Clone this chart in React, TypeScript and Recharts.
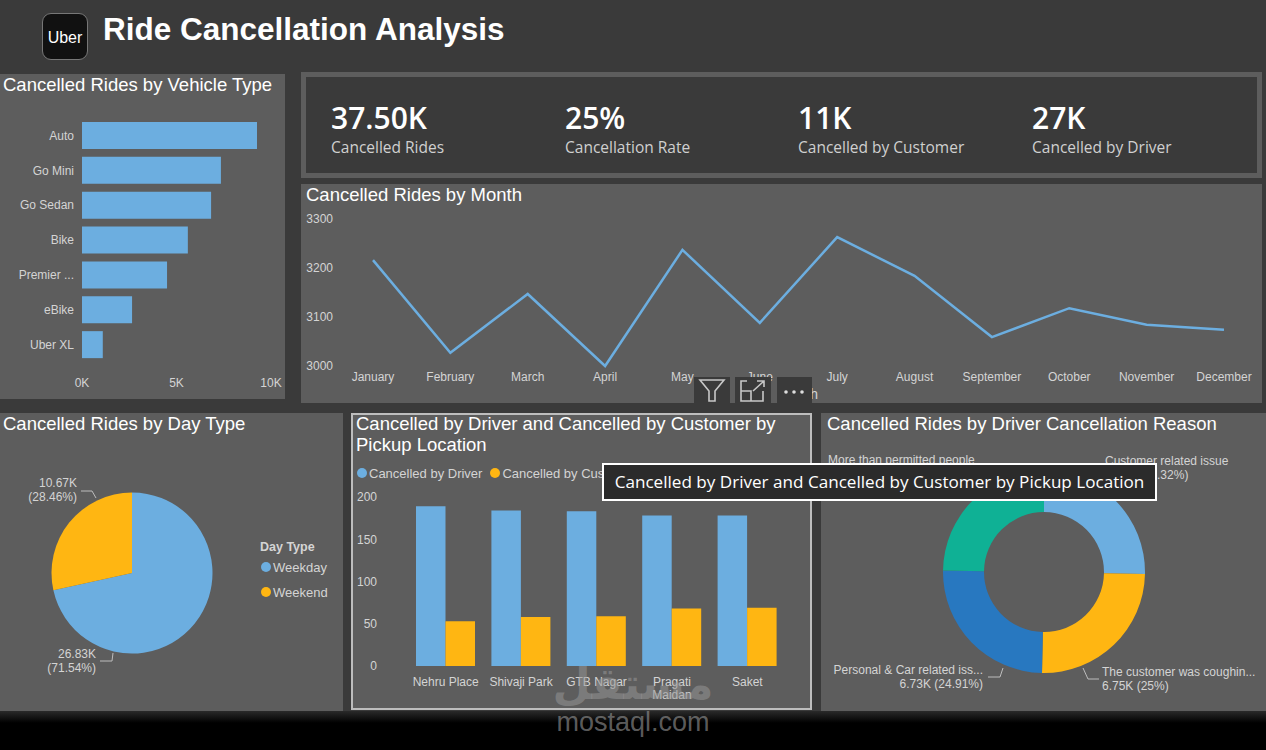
import {
  Bar,
  BarChart,
  Cell,
  Legend,
  Line,
  LineChart,
  Pie,
  PieChart,
  XAxis,
  YAxis,
} from "recharts";

const vehicleTypes = ["Auto", "Go Mini", "Go Sedan", "Bike", "Premier ...", "eBike", "Uber XL"];
const vehicleCancelled = [9260, 7350, 6830, 5600, 4500, 2650, 1100];

const months = [
  "January", "February", "March", "April", "May", "June",
  "July", "August", "September", "October", "November", "December",
];
const monthCancelled = [3216, 3027, 3147, 3000, 3237, 3088, 3263, 3184, 3059, 3118, 3084, 3074];

const dayTypes = ["Weekday", "Weekend"];
const dayValues = [26830, 10670];
const dayLabels = [["26.83K", "(71.54%)"], ["10.67K", "(28.46%)"]];

const locations = ["Nehru Place", "Shivaji Park", "GTB Nagar", "Pragati Maidan", "Saket"];
const byDriver = [189, 184, 183, 178, 178];
const byCustomer = [53, 58, 59, 68, 69];

const reasons = [
  "Customer related issue",
  "The customer was coughing",
  "Personal & Car related issue",
  "More than permitted people",
];
const reasonValues = [6840, 6750, 6730, 6690];
const reasonLabels = [
  ["Customer related issue", "6.84K (25.32%)"],
  ["The customer was coughin...", "6.75K (25%)"],
  ["Personal & Car related iss...", "6.73K (24.91%)"],
  ["More than permitted people", "6.69K (24.77%)"],
];

const kpis = [
  ["37.50K", "Cancelled Rides"],
  ["25%", "Cancellation Rate"],
  ["11K", "Cancelled by Customer"],
  ["27K", "Cancelled by Driver"],
];

const BLUE = "#6CAEE0";
const YELLOW = "#FFB612";
const DARK_BLUE = "#2878C0";
const TEAL = "#0FB195";
const PANEL = "#5D5D5D";
const BG = "#3A3A3A";
const AXIS_TEXT = "#D4D4D4";
const SANS = "'Liberation Sans', Arial, sans-serif";
const tick = { fill: AXIS_TEXT, fontSize: 12, fontFamily: SANS };

const vehicleData = vehicleTypes.map((name, i) => ({ name, value: vehicleCancelled[i] }));
const monthData = months.map((month, i) => ({ month, value: monthCancelled[i] }));
const dayData = dayTypes.map((name, i) => ({ name, value: dayValues[i] }));
const locationData = locations.map((name, i) => ({ name, driver: byDriver[i], customer: byCustomer[i] }));
const reasonData = reasons.map((name, i) => ({ name, value: reasonValues[i] }));

// callout placement, in chart pixels; order follows the slices
const dayCallouts = [
  { x: 96, y: 241, anchor: "end", line: "100,248 112,248 113,240" },
  { x: 77, y: 70, anchor: "end", line: "81,78 92,78 96,85" },
];
const reasonCallouts = [
  { x: 284, y: 48, anchor: "start", line: "" },
  { x: 281, y: 259, anchor: "start", line: "278,266 267,266 262,255" },
  { x: 162, y: 257, anchor: "end", line: "167,264 179,264 182,255" },
  { x: 7, y: 47, anchor: "start", line: "" },
];

function callout(lines: string[][], spots: typeof dayCallouts) {
  return (props: any) => {
    const spot = spots[props.index];
    return (
      <g key={props.index}>
        {spot.line && <polyline points={spot.line} fill="none" stroke="#BDBDBD" strokeWidth={1} />}
        {lines[props.index].map((t, i) => (
          <text
            key={t}
            x={spot.x}
            y={spot.y + i * 13.5}
            dy="0.35em"
            textAnchor={spot.anchor}
            fill={AXIS_TEXT}
            fontSize={12}
            fontFamily={SANS}
          >
            {t}
          </text>
        ))}
      </g>
    );
  };
}

function Panel({ x, y, w, h, style, children }: any) {
  return (
    <div style={{ position: "absolute", left: x, top: y, width: w, height: h, background: PANEL, ...style }}>
      {children}
    </div>
  );
}

function Title({ x = 3, y = 0, children }: any) {
  return (
    <div style={{ position: "absolute", left: x, top: y, color: "#fff", fontFamily: SANS, fontSize: 18.5, lineHeight: "21px", zIndex: 2 }}>
      {children}
    </div>
  );
}

function Dot({ color }: { color: string }) {
  return <span style={{ display: "inline-block", width: 10, height: 10, borderRadius: 5, background: color, marginRight: 2 }} />;
}

function DayLegend() {
  return (
    <div style={{ fontFamily: SANS, fontSize: 13, color: AXIS_TEXT, lineHeight: "15px" }}>
      <div style={{ fontWeight: 700, fontSize: 12.5, marginBottom: 5 }}>Day Type</div>
      {dayTypes.map((name, i) => (
        <div key={name} style={{ marginBottom: 10, marginLeft: 1 }}>
          <Dot color={i === 0 ? BLUE : YELLOW} />
          {name}
        </div>
      ))}
    </div>
  );
}

function PickupLegend() {
  return (
    <div style={{ position: "absolute", left: 6, top: 53, fontFamily: SANS, fontSize: 13, color: AXIS_TEXT, lineHeight: "15px", whiteSpace: "nowrap" }}>
      <span style={{ marginRight: 8 }}><Dot color={BLUE} />Cancelled by Driver</span>
      <span><Dot color={YELLOW} />Cancelled by Customer</span>
    </div>
  );
}

function LocationTick({ x, y, payload }: any) {
  const name: string = payload.value;
  const lines = name.length > 12 ? name.split(" ") : [name];
  return (
    <text x={x} y={y} textAnchor="middle" fill={AXIS_TEXT} fontFamily={SANS} fontSize={12}>
      {lines.map((line, i) => (
        <tspan key={line} x={x} dy={i === 0 ? "0.71em" : 13}>
          {line}
        </tspan>
      ))}
    </text>
  );
}

function FilterIcons() {
  const box = { position: "absolute" as const, top: 377, height: 26, background: BG, zIndex: 3 };
  return (
    <>
      <div style={{ ...box, left: 694, width: 36 }}>
        <svg width="36" height="26">
          <path d="M6 3 H30 L21 14 V24 H15 V14 Z" fill="none" stroke="#C8C8C8" strokeWidth="1.6" />
        </svg>
      </div>
      <div style={{ ...box, left: 735, width: 36 }}>
        <svg width="36" height="26">
          <path d="M12 4 H6 V24 H28 V14 M6 14 H16 V24 M18 14 L29 4 M22 4 H29 V10" fill="none" stroke="#C8C8C8" strokeWidth="1.6" />
        </svg>
      </div>
      <div style={{ ...box, left: 777, width: 35 }}>
        <svg width="35" height="26">
          <circle cx="9" cy="15" r="1.8" fill="#DDD" />
          <circle cx="17" cy="15" r="1.8" fill="#DDD" />
          <circle cx="25" cy="15" r="1.8" fill="#DDD" />
        </svg>
      </div>
    </>
  );
}

export default function App() {
  return (
    <div style={{ position: "absolute", left: 0, top: 0, width: 1266, height: 750, overflow: "hidden", background: BG }}>
      {/* header */}
      <div style={{ position: "absolute", left: 42, top: 13, width: 44, height: 45, borderRadius: 9, border: "1px solid #777", background: "#111", color: "#fff", fontFamily: SANS, fontSize: 16, lineHeight: "47px", textAlign: "center" }}>
        Uber
      </div>
      <div style={{ position: "absolute", left: 103, top: 11, color: "#fff", fontFamily: SANS, fontWeight: 700, fontSize: 31.5, lineHeight: "36px" }}>
        Ride Cancellation Analysis
      </div>

      {/* vehicle type */}
      <Panel x={0} y={74} w={285} h={325}>
        <Title y={0}>Cancelled Rides by Vehicle Type</Title>
        <BarChart width={285} height={325} layout="vertical" data={vehicleData} margin={{ top: 44, right: 14, bottom: 0, left: 0 }}>
          <XAxis type="number" domain={[0, 10000]} ticks={[0, 5000, 10000]} tickFormatter={(v) => `${v / 1000}K`} tick={tick} axisLine={false} tickLine={false} tickSize={0} tickMargin={16} interval={0} height={37} />
          <YAxis type="category" dataKey="name" width={82} tick={tick} axisLine={false} tickLine={false} tickSize={0} tickMargin={8} interval={0} />
          <Bar dataKey="value" fill={BLUE} barSize={27} isAnimationActive={false} />
        </BarChart>
      </Panel>

      {/* KPI band */}
      <div style={{ position: "absolute", left: 301, top: 72, width: 951, height: 96, border: `5px solid ${PANEL}`, background: BG }} />
      {kpis.map(([value, label], i) => (
        <div key={label} style={{ position: "absolute", left: [331, 565, 798, 1032][i], top: 99, whiteSpace: "nowrap", fontFamily: "'Open Sans', sans-serif" }}>
          <div style={{ color: "#fff", fontSize: 30, fontWeight: 600, lineHeight: "38px" }}>{value}</div>
          <div style={{ color: "#D0D0D0", fontSize: 15.5, lineHeight: "20px" }}>{label}</div>
        </div>
      ))}

      {/* month */}
      <Panel x={301} y={184} w={961} h={219}>
        <Title x={5} y={0}>Cancelled Rides by Month</Title>
        <LineChart width={961} height={219} data={monthData} margin={{ top: 35, right: 38, bottom: 0, left: 0 }}>
          <XAxis dataKey="month" scale="point" tick={tick} axisLine={false} tickLine={false} tickSize={0} tickMargin={6} interval={0} height={37} label={{ value: "Month", position: "insideBottom", offset: 4, fill: AXIS_TEXT, fontSize: 14, fontFamily: SANS }} />
          <YAxis domain={[3000, 3300]} ticks={[3000, 3100, 3200, 3300]} width={72} tick={tick} axisLine={false} tickLine={false} tickSize={0} tickMargin={40} interval={0} />
          <Line dataKey="value" type="linear" stroke={BLUE} strokeWidth={2.5} dot={false} isAnimationActive={false} />
        </LineChart>
      </Panel>

      {/* day type */}
      <Panel x={0} y={413} w={343} h={299}>
        <Title y={0}>Cancelled Rides by Day Type</Title>
        <PieChart width={343} height={299} margin={{ top: 0, right: 0, bottom: 0, left: 0 }}>
          <Pie data={dayData} dataKey="value" cx={132} cy={160} outerRadius={80.5} startAngle={90} endAngle={-270} stroke="none" labelLine={false} label={callout(dayLabels, dayCallouts)} isAnimationActive={false}>
            {dayData.map((d, i) => (
              <Cell key={d.name} fill={i === 0 ? BLUE : YELLOW} />
            ))}
          </Pie>
          <Legend content={DayLegend} layout="vertical" wrapperStyle={{ position: "absolute", left: 260, top: 127, width: 80 }} />
        </PieChart>
      </Panel>

      {/* pickup location */}
      <Panel x={351} y={413} w={461} h={297} style={{ outline: "2px solid #BDBDBD", outlineOffset: -2 }}>
        <Title x={5} y={0}>Cancelled by Driver and Cancelled by Customer by<br />Pickup Location</Title>
        <PickupLegend />
        <BarChart width={461} height={297} data={locationData} barGap={0} barCategoryGap={0} margin={{ top: 84, right: 27, bottom: 0, left: 0 }}>
          <XAxis dataKey="name" tick={LocationTick} axisLine={false} tickLine={false} tickSize={0} tickMargin={11} interval={0} height={44} />
          <YAxis domain={[0, 200]} ticks={[0, 50, 100, 150, 200]} width={57} tick={tick} axisLine={false} tickLine={false} tickSize={0} tickMargin={31} interval={0} />
          <Bar dataKey="driver" fill={BLUE} barSize={29.5} isAnimationActive={false} />
          <Bar dataKey="customer" fill={YELLOW} barSize={29.5} isAnimationActive={false} />
        </BarChart>
      </Panel>

      {/* driver cancellation reason */}
      <Panel x={821} y={413} w={445} h={299}>
        <Title x={6} y={0}>Cancelled Rides by Driver Cancellation Reason</Title>
        <PieChart width={445} height={299} margin={{ top: 0, right: 0, bottom: 0, left: 0 }}>
          <Pie data={reasonData} dataKey="value" cx={223} cy={159} innerRadius={60} outerRadius={101} startAngle={90} endAngle={-270} stroke="none" labelLine={false} label={callout(reasonLabels, reasonCallouts)} isAnimationActive={false}>
            {reasonData.map((d, i) => (
              <Cell key={d.name} fill={[BLUE, YELLOW, DARK_BLUE, TEAL][i]} />
            ))}
          </Pie>
        </PieChart>
      </Panel>

      <FilterIcons />

      {/* visual header tooltip */}
      <div style={{ position: "absolute", left: 602, top: 463, width: 551, height: 34, border: "2px solid #fff", background: "#2B2B2B", color: "#fff", fontFamily: "'Open Sans', sans-serif", fontSize: 17.1, lineHeight: "34px", textAlign: "center", whiteSpace: "nowrap", zIndex: 4 }}>
        Cancelled by Driver and Cancelled by Customer by Pickup Location
      </div>

      {/* bottom fade */}
      <div style={{ position: "absolute", left: 0, top: 711, width: 1266, height: 39, background: "linear-gradient(#2A2A2A 0, #000 12px)", zIndex: 1 }} />

      {/* watermark */}
      <div style={{ position: "absolute", left: 533, top: 656, width: 200, textAlign: "center", color: "rgba(150,150,150,0.55)", fontFamily: "'DejaVu Sans', sans-serif", fontWeight: 700, fontSize: 44, lineHeight: "56px", zIndex: 5 }}>
        مستقل
      </div>
      <div style={{ position: "absolute", left: 533, top: 708, width: 200, textAlign: "center", color: "rgba(150,150,150,0.62)", fontFamily: SANS, fontSize: 27, lineHeight: "28px", zIndex: 5 }}>
        mostaql.com
      </div>
    </div>
  );
}
